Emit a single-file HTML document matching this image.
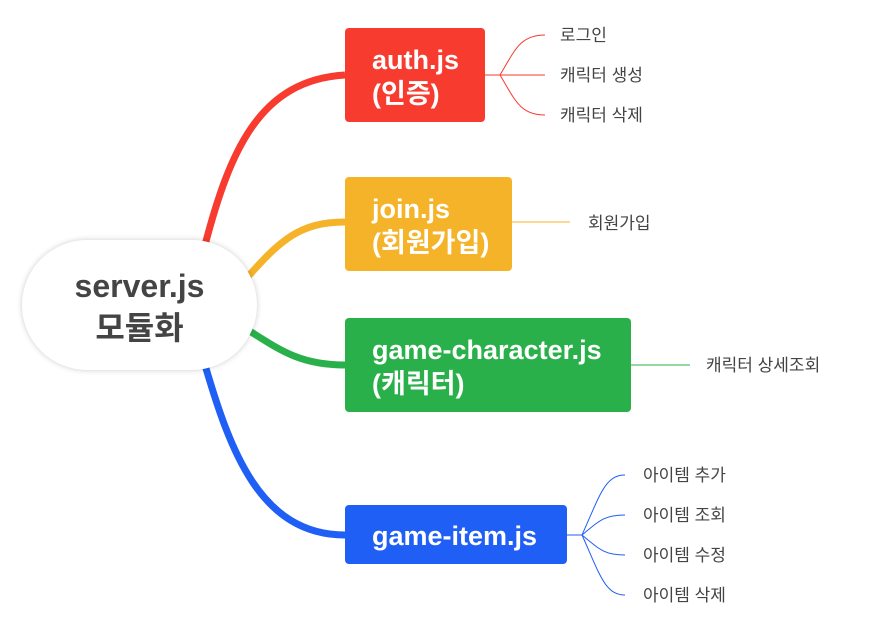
<!DOCTYPE html>
<html><head><meta charset="utf-8"><style>
body{margin:0;width:876px;height:630px;background:#fff;overflow:hidden;position:relative;font-family:"Liberation Sans","Noto Sans CJK KR",sans-serif}
.b{position:absolute;border-radius:4px;color:#fff;font-weight:bold;font-size:27px;line-height:34px;padding-left:27px;padding-top:3px;box-sizing:border-box;display:flex;flex-direction:column;justify-content:center;white-space:nowrap}
.t{position:absolute;font-size:17px;color:#444;line-height:20px;white-space:nowrap}
</style></head><body>
<svg width="876" height="630" style="position:absolute;left:0;top:0">
<g fill="none">
<path d="M205,245 C230,150 260,80 345,75" stroke="#f73b2f" stroke-width="7"/>
<path d="M245,280 C280,240 300,222 345,222" stroke="#f5b32a" stroke-width="7"/>
<path d="M248,330 C280,350 300,365 345,365" stroke="#2ab04a" stroke-width="7"/>
<path d="M205,365 C230,450 260,535 345,535" stroke="#1f5ff5" stroke-width="7"/>
<g stroke="#f73b2f" stroke-width="1">
<path d="M485,75 H545"/><path d="M500,75 C515,50 520,35 545,35"/><path d="M500,75 C515,100 520,115 545,115"/></g>
<path d="M512,222 H570" stroke="#f5b32a"/>
<path d="M631,365 H690" stroke="#2ab04a"/>
<g stroke="#1f5ff5" stroke-width="1">
<path d="M567,535 H582"/><path d="M582,535 C600,495 605,475 625,475"/><path d="M582,535 C600,520 605,515 625,515"/><path d="M582,535 C600,550 605,555 625,555"/><path d="M582,535 C600,575 605,595 625,595"/></g>
</g></svg>
<div style="position:absolute;left:22px;top:240px;width:235px;height:130px;border-radius:65px;background:#fff;box-shadow:0 0 6px rgba(0,0,0,0.2);display:flex;flex-direction:column;align-items:center;justify-content:center;font-size:32px;font-weight:bold;color:#444;line-height:42px;padding-top:4px;box-sizing:border-box">
<div>server.js</div><div>모듈화</div></div>
<div class="b" style="left:345px;top:28px;width:140px;height:94px;background:#f73b2f"><div>auth.js</div><div>(인증)</div></div>
<div class="b" style="left:345px;top:177px;width:167px;height:94px;background:#f5b32a"><div>join.js</div><div>(회원가입)</div></div>
<div class="b" style="left:345px;top:318px;width:286px;height:94px;background:#2ab04a"><div>game-character.js</div><div>(캐릭터)</div></div>
<div class="b" style="left:345px;top:505px;width:222px;height:59px;background:#1f5ff5"><div>game-item.js</div></div>
<div class="t" style="left:560px;top:26px">로그인</div>
<div class="t" style="left:560px;top:66px">캐릭터 생성</div>
<div class="t" style="left:560px;top:106px">캐릭터 삭제</div>
<div class="t" style="left:588px;top:214px">회원가입</div>
<div class="t" style="left:706px;top:356px">캐릭터 상세조회</div>
<div class="t" style="left:643px;top:466px">아이템 추가</div>
<div class="t" style="left:643px;top:506px">아이템 조회</div>
<div class="t" style="left:643px;top:546px">아이템 수정</div>
<div class="t" style="left:643px;top:586px">아이템 삭제</div>
</body></html>
